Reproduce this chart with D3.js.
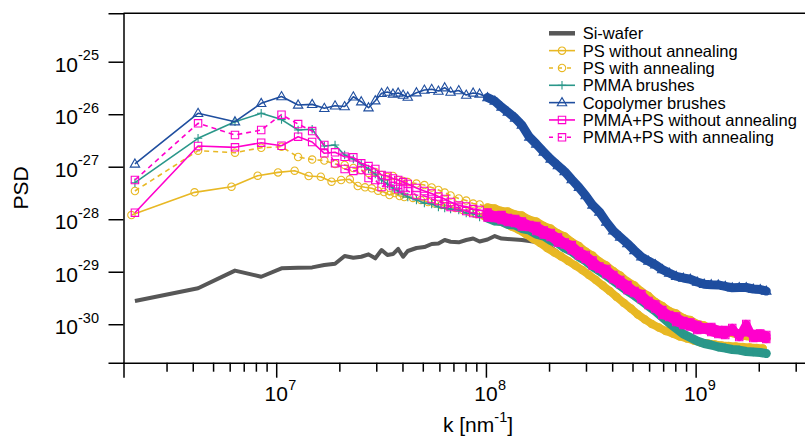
<!DOCTYPE html>
<html>
<head>
<meta charset="utf-8">
<script src="https://cdn.jsdelivr.net/npm/d3@7"></script>
<style>
  body { margin: 0; background: #fff; }
  text { font-family: "Liberation Sans", Arial, Helvetica, sans-serif; fill: #000; }
</style>
</head>
<body>
<div id="chart"></div>
<script>
const width = 805;
const height = 436;

// harmonic index of each sample (k = n * step)
const harmonic = [
  1, 2, 3, 4, 5, 6, 7, 8, 9, 10,
  11, 12, 13, 14, 15, 16, 17, 18, 19, 20,
  22, 24, 26, 28, 30, 32, 35, 38, 41, 44,
  48, 52, 56, 60, 65, 70, 76, 82, 89, 96,
  104, 112, 121, 131, 141, 152, 164, 177, 191, 206,
  223, 241, 260, 281, 303, 327, 353, 381, 412, 445,
  480, 518, 560, 605, 653, 705, 761, 822, 888, 959,
  1024
];
const kStep = 2.12e6;
const kStepPS = 2.04e6; // PS without annealing was scanned on a slightly larger area

const siWafer = [
  2.77e-30, 4.83e-30, 1.05e-29, 8.03e-30, 1.16e-29, 1.19e-29, 1.21e-29, 1.34e-29, 1.42e-29, 1.99e-29,
  1.85e-29, 1.93e-29, 2.14e-29, 1.80e-29, 2.59e-29, 2.08e-29, 2.17e-29, 2.71e-29, 1.93e-29, 2.48e-29,
  2.83e-29, 2.95e-29, 3.37e-29, 3.45e-29, 4.02e-29, 3.73e-29, 3.63e-29, 4.02e-29, 4.29e-29, 3.76e-29,
  4.11e-29, 4.78e-29, 4.29e-29, 4.20e-29, 4.11e-29, 4.02e-29, 3.84e-29, 3.68e-29, 3.37e-29, 2.95e-29,
  2.37e-29
];
const psWithout = [
  1.20e-28, 3.25e-28, 4.16e-28, 6.75e-28, 7.80e-28, 8.40e-28, 6.66e-28, 6.44e-28, 5.18e-28, 5.58e-28,
  5.76e-28, 4.29e-28, 4.05e-28, 3.88e-28, 3.49e-28, 3.30e-28, 2.89e-28, 3.15e-28, 2.77e-28, 2.65e-28,
  2.54e-28, 2.32e-28, 2.13e-28, 1.99e-28, 1.86e-28, 1.78e-28, 1.63e-28, 1.50e-28, 1.37e-28, 1.26e-28,
  1.15e-28, 1.03e-28, 9.25e-29, 8.47e-29, 7.26e-29, 6.37e-29, 5.21e-29, 4.29e-29, 3.52e-29, 2.83e-29,
  2.32e-29, 1.95e-29, 1.60e-29, 1.31e-29, 1.08e-29, 8.66e-30, 6.95e-30, 5.46e-30, 4.29e-30, 3.30e-30,
  2.54e-30, 1.99e-30, 1.53e-30, 1.23e-30, 1.01e-30, 8.66e-31, 7.43e-31, 6.66e-31, 5.84e-31, 5.34e-31,
  4.90e-31, 4.48e-31, 4.29e-31, 4.11e-31, 3.93e-31, 3.84e-31, 3.76e-31, 3.68e-31, 3.60e-31, 3.52e-31,
  3.45e-31
];
const psWith = [
  3.45e-28, 2.02e-27, 1.85e-27, 2.30e-27, 2.40e-27, 1.53e-27, 1.37e-27, 1.31e-27, 1.13e-27, 1.08e-27,
  9.45e-28, 8.66e-28, 7.61e-28, 7.93e-28, 6.95e-28, 6.37e-28, 6.66e-28, 5.58e-28, 5.34e-28, 5.11e-28,
  4.78e-28, 4.48e-28, 4.02e-28, 3.60e-28, 3.22e-28, 2.83e-28, 2.48e-28, 2.27e-28, 1.99e-28, 1.91e-28,
  1.67e-28, 1.60e-28, 1.43e-28, 1.40e-28, 1.23e-28, 1.18e-28, 9.80e-29, 9.05e-29, 7.43e-29, 6.66e-29,
  5.34e-29, 4.69e-29, 3.68e-29, 3.09e-29, 2.43e-29, 2.03e-29, 1.56e-29, 1.31e-29, 1.03e-29, 8.47e-30,
  6.50e-30, 5.46e-30, 4.20e-30, 3.45e-30, 2.65e-30, 2.22e-30, 1.78e-30, 1.60e-30, 1.31e-30, 1.20e-30,
  1.01e-30, 9.45e-31, 8.12e-31, 7.77e-31, 6.95e-31, 6.81e-31, 6.10e-31, 5.96e-31, 5.58e-31, 5.71e-31,
  5.23e-31
];
const pmmaBrushes = [
  4.96e-28, 3.48e-27, 7.20e-27, 1.04e-26, 7.90e-27, 5.00e-27, 5.16e-27, 2.48e-27, 2.59e-27, 1.67e-27,
  1.40e-27, 1.13e-27, 9.05e-28, 7.26e-28, 5.58e-28, 4.69e-28, 3.93e-28, 3.45e-28, 3.02e-28, 2.65e-28,
  2.32e-28, 2.03e-28, 1.95e-28, 1.71e-28, 1.63e-28, 1.56e-28, 1.50e-28, 1.31e-28, 1.28e-28, 1.10e-28,
  1.05e-28, 9.25e-29, 9.05e-29, 7.93e-29, 7.77e-29, 6.66e-29, 6.23e-29, 5.21e-29, 4.78e-29, 3.93e-29,
  3.52e-29, 2.83e-29, 2.43e-29, 1.91e-29, 1.60e-29, 1.26e-29, 1.03e-29, 8.47e-30, 6.81e-30, 5.46e-30,
  4.29e-30, 3.52e-30, 2.83e-30, 2.22e-30, 1.78e-30, 1.37e-30, 1.05e-30, 8.30e-31, 6.50e-31, 5.58e-31,
  4.78e-31, 4.29e-31, 4.02e-31, 3.68e-31, 3.52e-31, 3.30e-31, 3.22e-31, 3.02e-31, 2.95e-31, 2.89e-31,
  2.77e-31
];
const copolymer = [
  1.13e-27, 1.04e-26, 7.20e-27, 1.61e-26, 2.17e-26, 1.50e-26, 1.54e-26, 1.30e-26, 1.45e-26, 1.40e-26,
  2.15e-26, 1.73e-26, 1.33e-26, 1.81e-26, 2.50e-26, 2.65e-26, 2.43e-26, 2.54e-26, 2.32e-26, 2.13e-26,
  2.57e-26, 2.89e-26, 2.98e-26, 2.77e-26, 3.20e-26, 2.65e-26, 2.83e-26, 2.32e-26, 2.54e-26, 2.43e-26,
  2.08e-26, 1.78e-26, 1.37e-26, 1.10e-26, 8.47e-27, 6.23e-27, 3.68e-27, 2.71e-27, 1.91e-27, 1.40e-27,
  1.05e-27, 8.10e-28, 5.70e-28, 4.05e-28, 2.83e-28, 1.86e-28, 1.38e-28, 8.85e-29, 6.00e-29, 4.58e-29,
  3.45e-29, 2.54e-29, 1.92e-29, 1.60e-29, 1.36e-29, 1.10e-29, 9.45e-30, 8.20e-30, 7.60e-30, 7.20e-30,
  6.37e-30, 5.80e-30, 5.66e-30, 5.60e-30, 5.27e-30, 4.95e-30, 4.98e-30, 5.00e-30, 4.69e-30, 4.58e-30,
  4.29e-30
];
const pmmaPs = [
  1.33e-28, 2.48e-27, 2.34e-27, 2.87e-27, 2.51e-27, 3.73e-27, 2.96e-27, 1.80e-27, 1.88e-27, 1.55e-27,
  1.51e-27, 1.16e-27, 1.03e-27, 9.05e-28, 6.95e-28, 6.66e-28, 5.96e-28, 5.58e-28, 5.11e-28, 4.69e-28,
  3.93e-28, 3.45e-28, 3.09e-28, 2.71e-28, 2.43e-28, 2.13e-28, 1.82e-28, 1.75e-28, 1.56e-28, 1.50e-28,
  1.34e-28, 1.18e-28, 1.20e-28, 1.05e-28, 1.01e-28, 9.05e-29, 7.77e-29, 7.43e-29, 6.10e-29, 5.46e-29,
  4.48e-29, 3.60e-29, 3.22e-29, 2.43e-29, 2.08e-29, 1.63e-29, 1.26e-29, 1.13e-29, 8.66e-30, 6.95e-30,
  5.58e-30, 4.29e-30, 3.76e-30, 2.77e-30, 2.37e-30, 1.86e-30, 1.50e-30, 1.40e-30, 1.15e-30, 1.08e-30,
  9.66e-31, 8.66e-31, 8.85e-31, 7.77e-31, 7.77e-31, 7.26e-31, 6.66e-31, 7.10e-31, 6.50e-31, 6.66e-31,
  6.23e-31
];
const pmmaPsAnn = [
  5.58e-28, 6.72e-27, 4.02e-27, 5.00e-27, 9.80e-27, 6.50e-27, 4.78e-27, 2.59e-27, 1.16e-27, 9.05e-28,
  8.30e-28, 8.66e-28, 6.10e-28, 5.58e-28, 4.11e-28, 4.90e-28, 4.29e-28, 3.76e-28, 3.93e-28, 3.45e-28,
  2.89e-28, 2.77e-28, 2.43e-28, 2.22e-28, 1.95e-28, 1.71e-28, 1.67e-28, 1.43e-28, 1.31e-28, 1.26e-28,
  1.08e-28, 1.05e-28, 9.66e-29, 8.85e-29, 8.47e-29, 7.26e-29, 7.10e-29, 5.96e-29, 5.11e-29, 4.58e-29,
  3.60e-29, 3.30e-29, 2.59e-29, 2.03e-29, 1.75e-29, 1.31e-29, 1.15e-29, 9.05e-30, 7.26e-30, 5.84e-30,
  4.48e-30, 3.93e-30, 3.02e-30, 2.32e-30, 1.99e-30, 1.50e-30, 1.37e-30, 1.10e-30, 9.66e-31, 9.05e-31,
  7.77e-31, 7.93e-31, 7.10e-31, 6.50e-31, 6.23e-31, 8.47e-31, 5.71e-31, 1.01e-30, 5.46e-31, 5.58e-31,
  5.23e-31
];

const yExponents = [-25, -26, -27, -28, -29, -30];
const xExponents = [7, 8, 9];
const xMinor = [3e6, 4e6, 5e6, 6e6, 7e6, 8e6, 9e6,
  2e7, 3e7, 4e7, 5e7, 6e7, 7e7, 8e7, 9e7,
  2e8, 3e8, 4e8, 5e8, 6e8, 7e8, 8e8, 9e8,
  2e9, 3e9];

const series = [
  { name: "Si-wafer", values: siWafer, step: kStep, color: "#575757", width: 4, dash: null, marker: null },
  { name: "PS without annealing", values: psWithout, step: kStepPS, color: "#E8B824", width: 1.6, dash: null, marker: "circle", band: 8 },
  { name: "PS with annealing", values: psWith, step: kStep, color: "#E8B824", width: 1.6, dash: "5,4", marker: "circle", band: 8 },
  { name: "PMMA brushes", values: pmmaBrushes, step: kStep, color: "#2A978A", width: 1.6, dash: null, marker: "plus", band: 9 },
  { name: "Copolymer brushes", values: copolymer, step: kStep, color: "#1F4E9F", width: 1.6, dash: null, marker: "triangle", band: 9 },
  { name: "PMMA+PS without annealing", values: pmmaPs, step: kStep, color: "#FF00CC", width: 1.6, dash: null, marker: "square", band: 8 },
  { name: "PMMA+PS with annealing", values: pmmaPsAnn, step: kStep, color: "#FF00CC", width: 1.6, dash: "5,4", marker: "square", band: 8 }
];

// above this harmonic the measured points sit closer than a marker width
const denseFrom = 48;

const markerPath = {
  circle: "M3.7,0A3.7,3.7 0 1,1 -3.7,0A3.7,3.7 0 1,1 3.7,0Z",
  square: "M-3.7,-3.7H3.7V3.7H-3.7Z",
  triangle: "M0,-5L4.7,3.2L-4.7,3.2Z",
  plus: "M-4.2,0H4.2M0,-4.2V4.2"
};

const plot = { left: 123.5, top: 13.3, bottom: 362.7 };

const svg = d3.select("#chart")
  .append("svg")
  .attr("width", width)
  .attr("height", height);

const x = d3.scaleLog().domain([1.87e6, 4e9]).range([plot.left, 821.9]);
const y = d3.scaleLog().domain([1.85e-31, 8.36e-25]).range([plot.bottom, plot.top]);

// series
series.forEach(s => {
  const pts = s.values.map((v, i) => [x(harmonic[i] * s.step), y(v)]);
  const g = svg.append("g");
  if (s.band) {
    // overlapping markers of the densely sampled tail read as a solid band
    const dense = pts.filter((p, i) => harmonic[i] >= denseFrom);
    g.append("path")
      .attr("d", d3.line()(dense))
      .attr("fill", "none")
      .attr("stroke", s.color)
      .attr("stroke-width", s.band)
      .attr("stroke-linejoin", "round")
      .attr("stroke-linecap", "round");
  }
  g.append("path")
    .attr("d", d3.line()(pts))
    .attr("fill", "none")
    .attr("stroke", s.color)
    .attr("stroke-width", s.width)
    .attr("stroke-linejoin", "round")
    .attr("stroke-dasharray", s.dash);
  if (s.marker) {
    g.selectAll("path.mk")
      .data(pts)
      .join("path")
      .attr("class", "mk")
      .attr("transform", d => `translate(${d[0]},${d[1]})`)
      .attr("d", markerPath[s.marker])
      .attr("fill", "none")
      .attr("stroke", s.color)
      .attr("stroke-width", 1.1);
  }
});

// frame
svg.append("line")
  .attr("x1", plot.left).attr("x2", width)
  .attr("y1", plot.top).attr("y2", plot.top)
  .attr("stroke", "#000").attr("stroke-width", 1.5);

// y axis
const yAxis = svg.append("g")
  .attr("transform", `translate(${plot.left},0)`)
  .call(d3.axisLeft(y).tickValues(yExponents.map(e => Math.pow(10, e))).tickSize(15).tickFormat(""));
yAxis.select(".domain").attr("stroke-width", 1.5);
yAxis.selectAll(".tick line").attr("stroke-width", 1.5);

yExponents.forEach(e => {
  const t = svg.append("text")
    .attr("x", 99)
    .attr("y", y(Math.pow(10, e)) + 10)
    .attr("text-anchor", "end")
    .style("font-size", "21px");
  t.append("tspan").text("10");
  t.append("tspan").attr("dy", -11.5).style("font-size", "14.5px").text(e);
});

// x axis
const xAxis = svg.append("g")
  .attr("transform", `translate(0,${plot.bottom})`)
  .call(d3.axisBottom(x).tickValues(xExponents.map(e => Math.pow(10, e))).tickSize(15).tickFormat(""));
xAxis.select(".domain").attr("stroke-width", 1.5);
xAxis.selectAll(".tick line").attr("stroke-width", 1.5);

const xMinorAxis = svg.append("g")
  .attr("transform", `translate(0,${plot.bottom})`)
  .call(d3.axisBottom(x).tickValues(xMinor).tickSize(9).tickFormat(""));
xMinorAxis.select(".domain").remove();
xMinorAxis.selectAll(".tick line").attr("stroke-width", 1.5);

xExponents.forEach(e => {
  const px = x(Math.pow(10, e));
  svg.append("text")
    .attr("x", px).attr("y", 401)
    .attr("text-anchor", "middle")
    .style("font-size", "21px")
    .text("10");
  svg.append("text")
    .attr("x", px + 12).attr("y", 389.5)
    .style("font-size", "14.5px")
    .text(e);
});

// axis titles
svg.append("text")
  .attr("transform", "translate(28,188) rotate(-90)")
  .attr("text-anchor", "middle")
  .style("font-size", "21px")
  .text("PSD");

const xTitle = svg.append("text")
  .attr("x", 478).attr("y", 432)
  .attr("text-anchor", "middle")
  .style("font-size", "21px");
xTitle.append("tspan").text("k [nm");
xTitle.append("tspan").attr("dy", -10).style("font-size", "14.5px").text("-1");
xTitle.append("tspan").attr("dy", 10).text("]");

// legend
const legend = svg.append("g").attr("transform", "translate(549,33.3)");
series.forEach((s, i) => {
  const row = legend.append("g").attr("transform", `translate(0,${i * 17.33})`);
  row.append("line")
    .attr("x1", 0).attr("x2", 26)
    .attr("stroke", s.color)
    .attr("stroke-width", s.marker ? 1.6 : 4.5)
    .attr("stroke-dasharray", s.dash ? "4,5" : null);
  if (s.marker) {
    row.append("path")
      .attr("transform", "translate(13,0)")
      .attr("d", markerPath[s.marker])
      .attr("fill", "none")
      .attr("stroke", s.color)
      .attr("stroke-width", 1.1);
  }
  row.append("text")
    .attr("x", 33.7).attr("y", 6)
    .style("font-size", "16.5px")
    .text(s.name);
});
</script>
</body>
</html>
